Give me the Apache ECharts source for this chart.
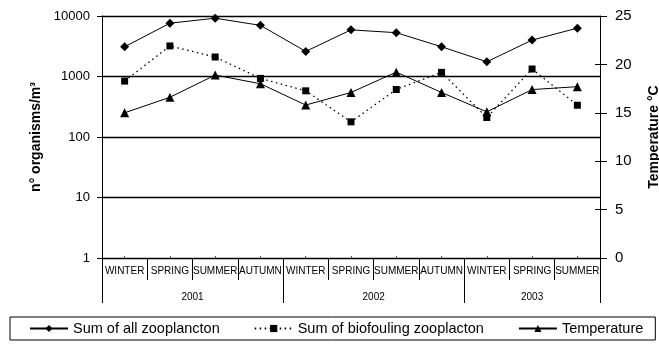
<!DOCTYPE html>
<html>
<head>
<meta charset="utf-8">
<script src="https://cdn.jsdelivr.net/npm/echarts@6/dist/echarts.min.js"></script>
<style>
  html, body { margin: 0; padding: 0; background: #fff; }
  #chart { width: 659px; height: 344px; }
</style>
</head>
<body>
<div id="chart"></div>
<script>
// Seasonal sampling, 2001-2003
const seasons = ['WINTER', 'SPRING', 'SUMMER', 'AUTUMN', 'WINTER', 'SPRING', 'SUMMER', 'AUTUMN', 'WINTER', 'SPRING', 'SUMMER'];
const years = ['2001', '2002', '2003'];
const seasonsPerYear = [4, 4, 3];

// organisms per m3 (log scale, left axis)
const allZooplankton = [3100, 7600, 9200, 7000, 2600, 5900, 5300, 3100, 1750, 4000, 6300];
const biofoulingZooplankton = [840, 3200, 2100, 930, 580, 178, 610, 1170, 210, 1330, 335];
// water temperature in °C (right axis)
const temperature = [15.0, 16.6, 18.9, 18.0, 15.8, 17.1, 19.2, 17.1, 15.1, 17.4, 17.7];

const countTicks = ['1', '10', '100', '1000', '10000'];
const tempTicks = ['0', '5', '10', '15', '20', '25'];

const FONT = "'Liberation Sans', Arial, sans-serif";

// Year row: a half-season grid so year labels sit in the middle of their group
// and the long separators fall on the group boundaries.
const halfSlots = seasons.length * 2 + 1;
const yearSlots = new Array(halfSlots).fill('');
const yearBounds = new Set([0]);
let start = 0;
years.forEach((y, i) => {
  yearSlots[2 * start + seasonsPerYear[i]] = y;
  start += seasonsPerYear[i];
  yearBounds.add(2 * start);
});

const chart = echarts.init(document.getElementById('chart'), null, { renderer: 'canvas' });

const black = '#000';

chart.setOption({
  animation: false,
  backgroundColor: '#fff',
  textStyle: { fontFamily: FONT, color: black },
  grid: { left: 102, right: 59, top: 16, bottom: 86, containLabel: false, outerBoundsMode: 'none' },
  legend: {
    left: 10,
    top: 317,
    padding: [4, 12, 4, 19],
    itemGap: 34,
    itemWidth: 38,
    itemHeight: 9,
    borderColor: black,
    borderWidth: 1,
    textStyle: { fontFamily: FONT, fontSize: 14.5, color: black },
    data: ['Sum of all zooplancton', 'Sum of biofouling zooplacton', 'Temperature']
  },
  xAxis: [
    {
      type: 'category',
      position: 'bottom',
      data: seasons,
      boundaryGap: true,
      axisLine: { show: true, lineStyle: { color: black, width: 1 } },
      axisTick: { show: true, interval: 0, alignWithLabel: false, length: 22, lineStyle: { color: black, width: 1 } },
      axisLabel: { interval: 0, fontSize: 10, color: black, fontFamily: FONT, margin: 8 },
      splitLine: { show: false }
    },
    {
      type: 'category',
      position: 'bottom',
      data: yearSlots,
      boundaryGap: false,
      axisLine: { show: false },
      axisTick: {
        show: true,
        interval: (idx) => yearBounds.has(idx),
        length: 45,
        lineStyle: { color: black, width: 1 }
      },
      axisLabel: {
        interval: (idx, val) => val !== '',
        fontSize: 10, color: black, fontFamily: FONT, margin: 34
      },
      splitLine: { show: false }
    },
    {
      type: 'category',
      position: 'bottom',
      data: seasons,
      boundaryGap: true,
      axisLine: { show: false },
      axisTick: { show: true, inside: true, alignWithLabel: true, interval: 0, length: 2, lineStyle: { color: '#555', width: 1 } },
      axisLabel: { show: false },
      splitLine: { show: false }
    }
  ],
  yAxis: [
    {
      type: 'log',
      logBase: 10,
      min: 1,
      max: 10000,
      position: 'left',
      name: 'n° organisms/m³',
      nameLocation: 'middle',
      nameGap: 58,
      nameTextStyle: { fontFamily: FONT, fontSize: 14, fontWeight: 'bold', color: black },
      axisLine: { show: true, lineStyle: { color: black, width: 1 } },
      axisTick: { show: true, length: 5, lineStyle: { color: black } },
      axisLabel: {
        fontSize: 13, color: black, fontFamily: FONT, margin: 12,
        formatter: (v) => countTicks.includes(String(Math.round(v))) ? String(Math.round(v)) : ''
      },
      splitLine: { show: true, lineStyle: { color: black, width: 1.3 } }
    },
    {
      type: 'value',
      min: 0,
      max: 25,
      interval: 5,
      position: 'right',
      name: 'Temperature °C',
      nameLocation: 'middle',
      nameGap: 47,
      nameTextStyle: { fontFamily: FONT, fontSize: 14, fontWeight: 'bold', color: black },
      axisLine: { show: true, lineStyle: { color: black, width: 1 } },
      axisTick: { show: true, length: 7, lineStyle: { color: black } },
      axisLabel: {
        fontSize: 15, color: black, fontFamily: FONT, margin: 15,
        formatter: (v) => tempTicks.includes(String(v)) ? String(v) : ''
      },
      splitLine: { show: false }
    },
    {
      type: 'value',
      min: 0,
      max: 25,
      interval: 5,
      position: 'right',
      axisLine: { show: false },
      axisTick: { show: true, inside: true, length: 5, lineStyle: { color: black } },
      axisLabel: { show: false },
      splitLine: { show: false }
    }
  ],
  series: [
    {
      name: 'Sum of all zooplancton',
      type: 'line',
      xAxisIndex: 0,
      yAxisIndex: 0,
      data: allZooplankton,
      symbol: 'diamond',
      symbolSize: 9,
      color: black,
      itemStyle: { color: black },
      lineStyle: { color: black, width: 1 },
      z: 3
    },
    {
      name: 'Sum of biofouling zooplacton',
      type: 'line',
      xAxisIndex: 0,
      yAxisIndex: 0,
      data: biofoulingZooplankton,
      symbol: 'rect',
      symbolSize: 7,
      color: black,
      itemStyle: { color: black },
      lineStyle: { color: black, width: 1.3, type: [1.5, 3.5] },
      z: 3
    },
    {
      name: 'Temperature',
      type: 'line',
      xAxisIndex: 0,
      yAxisIndex: 1,
      data: temperature,
      symbol: 'triangle',
      symbolSize: 9,
      color: black,
      itemStyle: { color: black },
      lineStyle: { color: black, width: 1 },
      z: 3
    }
  ]
});
</script>
</body>
</html>
